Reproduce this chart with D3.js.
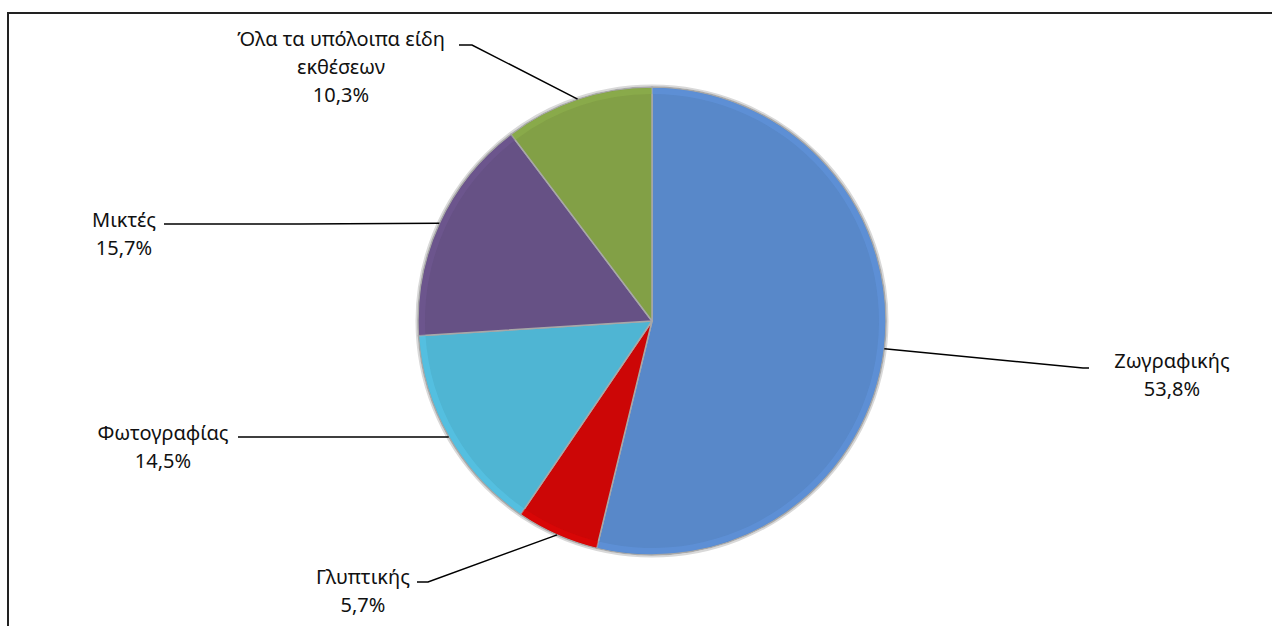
<!DOCTYPE html>
<html>
<head>
<meta charset="utf-8">
<script src="https://d3js.org/d3.v7.min.js"></script>
<style>
  body { margin: 0; background: #fff; }
  svg { display: block; }
  .label { font-family: "Noto Sans", "Open Sans", sans-serif; font-size: 20px; fill: #111; }
</style>
</head>
<body>
<svg id="chart"></svg>
<script>
// 展示の種類ごとの割合 (%)
const categories = ['Ζωγραφικής', 'Γλυπτικής', 'Φωτογραφίας', 'Μικτές', 'Όλα τα υπόλοιπα είδη\nεκθέσεων'];
const shares = [53.8, 5.7, 14.5, 15.7, 10.3];

class PieChart {
    constructor (config, categories, values) {
        this.config = {
            parent: config.parent,
            width: config.width || 256,
            height: config.height || 256,
            cx: config.cx,
            cy: config.cy,
            radius: config.radius,
            colors: config.colors,
            labels: config.labels
        };
        this.data = categories.map((c, i) => ({ name: c, value: values[i] }));
        this.init();
    }

    init() {
        let self = this;

        self.svg = d3.select(self.config.parent)
            .attr('width', self.config.width)
            .attr('height', self.config.height);

        // 枠
        self.svg.append('rect')
            .attr('x', 8)
            .attr('y', 13)
            .attr('width', self.config.width + 20)
            .attr('height', self.config.height + 20)
            .attr('fill', 'none')
            .attr('stroke', '#222')
            .attr('stroke-width', 2);

        self.chart = self.svg.append('g')
            .attr('transform', `translate(${self.config.cx}, ${self.config.cy})`);

        self.color = d3.scaleOrdinal()
            .domain(self.data.map(d => d.name))
            .range(self.config.colors);

        const locale = d3.formatLocale({decimal: ',', thousands: '.', grouping: [3], currency: ['', '€']});
        self.fmt = locale.format('.1f');
    }

    update() {
        let self = this;
        self.pie = d3.pie()
            .sort(null)
            .value(d => d.value)
            (self.data);
        self.render();
    }

    render() {
        let self = this;
        const r = self.config.radius;

        const arc = d3.arc().innerRadius(0).outerRadius(r);
        const rim = d3.arc().innerRadius(r).outerRadius(r);
        const bevel = d3.arc().innerRadius(r - 7).outerRadius(r - 1);

        // 外側の影
        self.chart.append('circle')
            .attr('r', r + 1.5)
            .attr('fill', 'none')
            .attr('stroke', '#d9d9d9')
            .attr('stroke-width', 2);

        self.chart.selectAll('.slice')
            .data(self.pie)
            .join('path')
            .attr('class', 'slice')
            .attr('d', arc)
            .attr('fill', d => self.color(d.data.name))
            .attr('stroke', '#a8a8a8')
            .attr('stroke-width', 1.5)
            .attr('stroke-linejoin', 'round');

        // ふちのハイライト
        self.chart.selectAll('.bevel')
            .data(self.pie)
            .join('path')
            .attr('class', 'bevel')
            .attr('d', bevel)
            .attr('fill', d => d3.color(self.color(d.data.name)).brighter(0.35))
            .attr('opacity', 0.45);

        // ラベル + 引き出し線
        const g = self.svg.append('g');
        self.pie.forEach((d, i) => {
            const lay = self.config.labels[i];
            const p = rim.centroid(d);
            const start = [p[0] + self.config.cx, p[1] + self.config.cy];

            g.append('path')
                .attr('d', d3.line()([start, lay.elbow, lay.end]))
                .attr('fill', 'none')
                .attr('stroke', '#000')
                .attr('stroke-width', 1.5);

            const lines = d.data.name.split('\n').concat([self.fmt(d.data.value) + '%']);
            const t = g.append('text')
                .attr('class', 'label')
                .attr('text-anchor', 'middle')
                .attr('x', lay.x)
                .attr('y', lay.y);
            t.selectAll('tspan')
                .data(lines)
                .join('tspan')
                .attr('x', lay.x)
                .attr('dy', (s, j) => j === 0 ? 0 : 28)
                .text(s => s);
        });
    }
}

const chart = new PieChart({
    parent: '#chart',
    width: 1272,
    height: 626,
    cx: 652,
    cy: 321,
    radius: 234,
    colors: ['#5888c9', '#cc0606', '#4fb5d3', '#665185', '#82a046'],
    labels: [
        { x: 1172, y: 368, elbow: [1083, 368], end: [1089, 368] },
        { x: 363, y: 584, elbow: [428, 582], end: [417, 582] },
        { x: 163, y: 440, elbow: [300, 437], end: [238, 437] },
        { x: 124, y: 227, elbow: [300, 224], end: [164, 224] },
        { x: 341, y: 46, elbow: [472, 45], end: [459, 45] }
    ]
}, categories, shares);
chart.update();
</script>
</body>
</html>
